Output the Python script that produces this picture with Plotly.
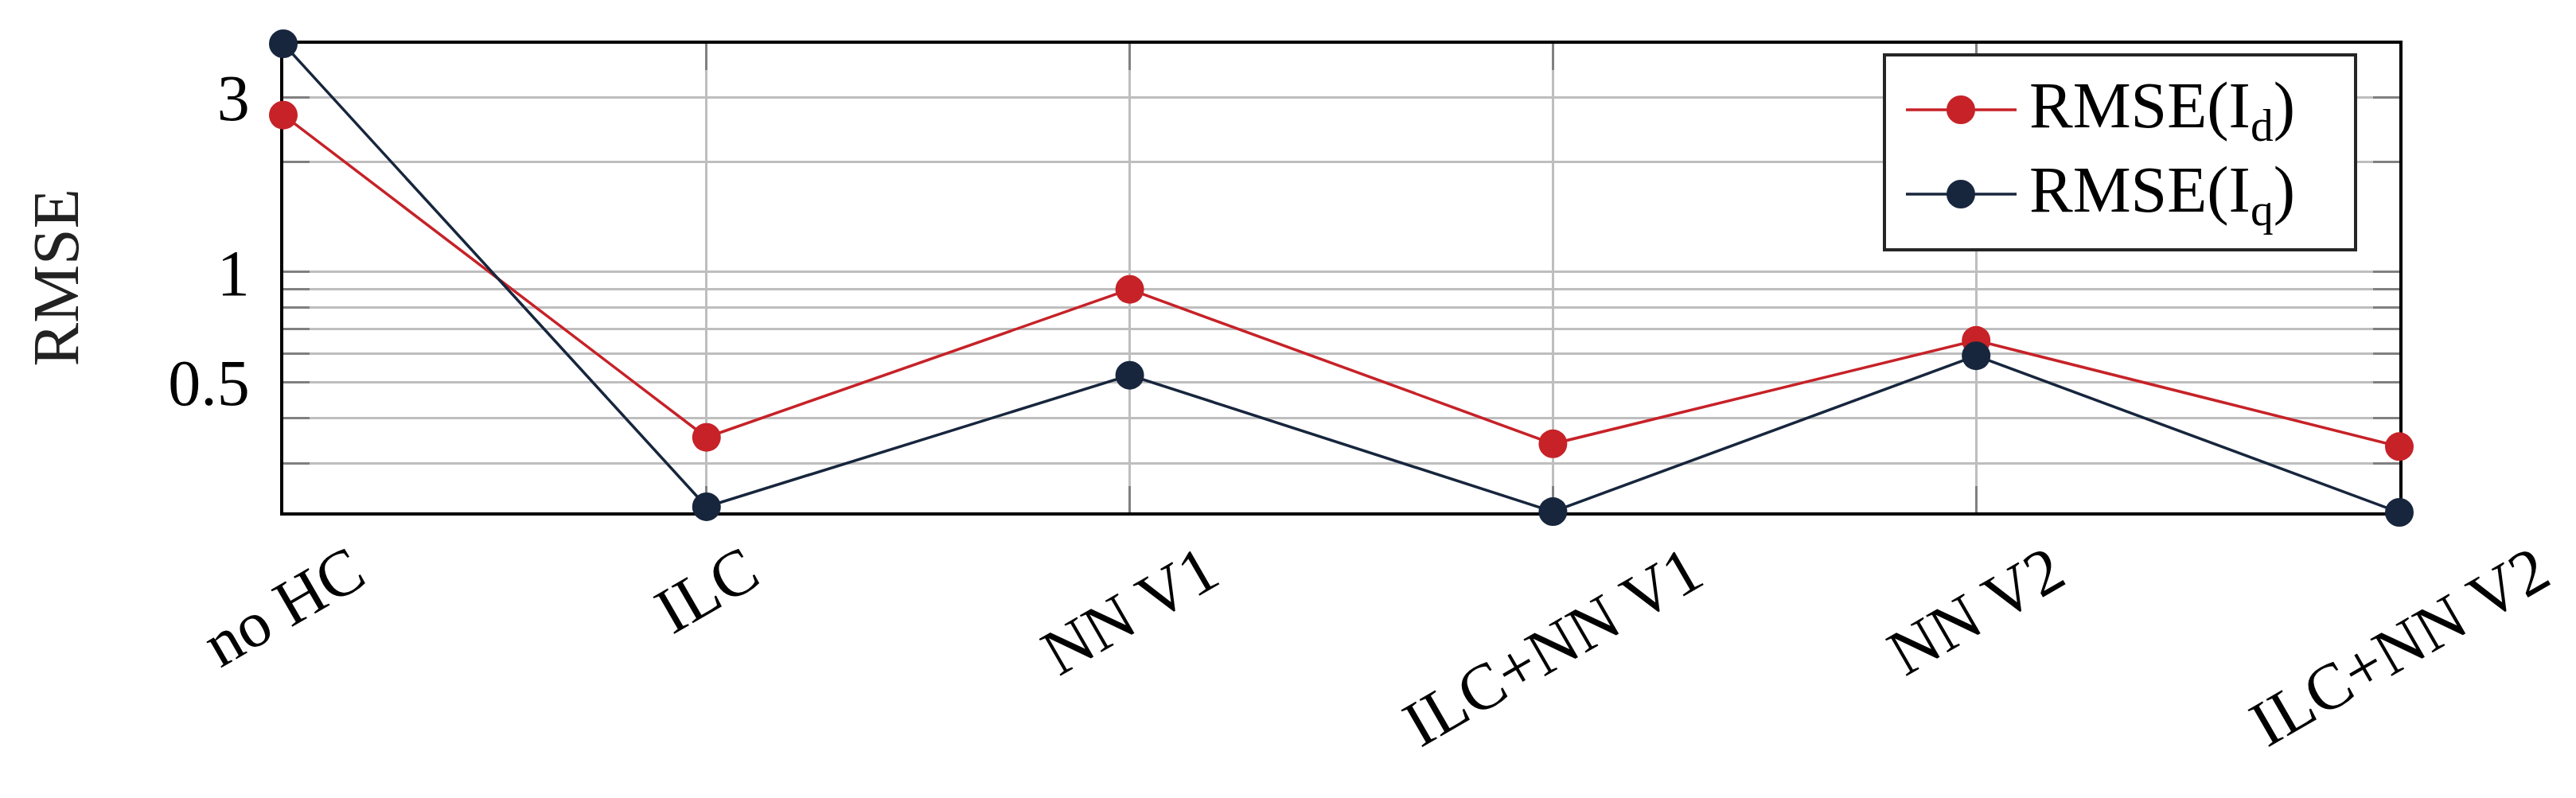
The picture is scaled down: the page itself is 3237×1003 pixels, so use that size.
import math
import plotly.graph_objects as go

# methods compared
methods = ["no HC", "ILC", "NN V1", "ILC+NN V1", "NN V2", "ILC+NN V2"]

# RMSE values (log axis)
rmse_id = [2.68, 0.354, 0.897, 0.340, 0.651, 0.334]
rmse_iq = [4.195, 0.229, 0.523, 0.222, 0.591, 0.221]

# labelled y ticks and extra (unlabelled) grid lines
y_ticks = [0.5, 1, 3]
y_ticktext = ["0.5", "1", "3"]
y_minor = [0.3, 0.4, 0.6, 0.7, 0.8, 0.9, 2]

legend_names = ["RMSE(I<sub>d</sub>)", "RMSE(I<sub>q</sub>)"]

RED = "#C62228"
NAVY = "#17263D"
FONT = "Liberation Serif"
W, H = 3237, 1003
L, R, T, B = 348, 3007, 47, 636   # plot area in pixels


def px(x):
    return (x - L) / (R - L)


def py(y):
    return (B - y) / (B - T)


fig = go.Figure()
for vals, col, name in [(rmse_id, RED, legend_names[0]), (rmse_iq, NAVY, legend_names[1])]:
    fig.add_trace(go.Scatter(
        x=methods, y=vals, mode="lines+markers", name=name,
        line=dict(color=col, width=3.5),
        marker=dict(color=col, size=36),
        cliponaxis=False, showlegend=False))

allv = rmse_id + rmse_iq
fig.update_yaxes(
    type="log", range=[math.log10(min(allv)), math.log10(max(allv))],
    tickvals=y_ticks, ticktext=y_ticktext,
    showgrid=True, gridcolor="#BEBEBE", gridwidth=3,
    ticks="inside", ticklen=33, tickwidth=3, tickcolor="#808080",
    minor=dict(tickvals=y_minor, ticks="inside", ticklen=33, tickwidth=3,
               tickcolor="#808080", showgrid=True, gridcolor="#BEBEBE", gridwidth=3),
    showline=True, linecolor="black", linewidth=3.5, mirror="ticks",
    tickfont=dict(family=FONT, size=82, color="black"),
    ticklabelstandoff=22, layer="below traces")
fig.update_xaxes(
    type="category", range=[0, len(methods) - 1],
    showgrid=True, gridcolor="#BEBEBE", gridwidth=3,
    ticks="inside", ticklen=33, tickwidth=3, tickcolor="#808080",
    showline=True, linecolor="black", linewidth=3.5, mirror="ticks",
    showticklabels=False, layer="below traces")

# rotated category labels, centred under each tick
for m in methods:
    fig.add_annotation(x=m, y=0, xref="x", yref="paper", text=m, showarrow=False,
                       textangle=-30, xanchor="center", yanchor="top", yshift=-22,
                       font=dict(family=FONT, size=82, color="black"))

fig.add_annotation(x=px(62), y=0.5, xref="paper", yref="paper", text="RMSE",
                   showarrow=False, textangle=-90, xanchor="center", yanchor="middle",
                   font=dict(family=FONT, size=82, color="#222222"))

# legend box
fig.add_shape(type="rect", xref="paper", yref="paper",
              x0=px(2360), x1=px(2952), y0=py(306), y1=py(61),
              fillcolor="white", line=dict(color="#262626", width=4), layer="above")
for i, (col, name) in enumerate([(RED, legend_names[0]), (NAVY, legend_names[1])]):
    yc = py(130 + 106 * i)
    fig.add_shape(type="line", xref="paper", yref="paper",
                  x0=px(2387), x1=px(2526), y0=yc, y1=yc,
                  line=dict(color=col, width=3.5), layer="above")
    fig.add_shape(type="circle", xref="paper", yref="paper",
                  xsizemode="pixel", ysizemode="pixel",
                  xanchor=px(2456), yanchor=yc, x0=-18, x1=18, y0=-18, y1=18,
                  fillcolor=col, line=dict(width=0), layer="above")
    fig.add_annotation(x=px(2540), y=yc, xref="paper", yref="paper", text=name,
                       showarrow=False, xanchor="left", yanchor="middle",
                       font=dict(family=FONT, size=82, color="black"))

fig.update_layout(
    width=W, height=H,
    margin=dict(l=L, r=W - R, t=T, b=H - B),
    plot_bgcolor="white", paper_bgcolor="white",
    showlegend=False)

fig.write_html("out.html")
